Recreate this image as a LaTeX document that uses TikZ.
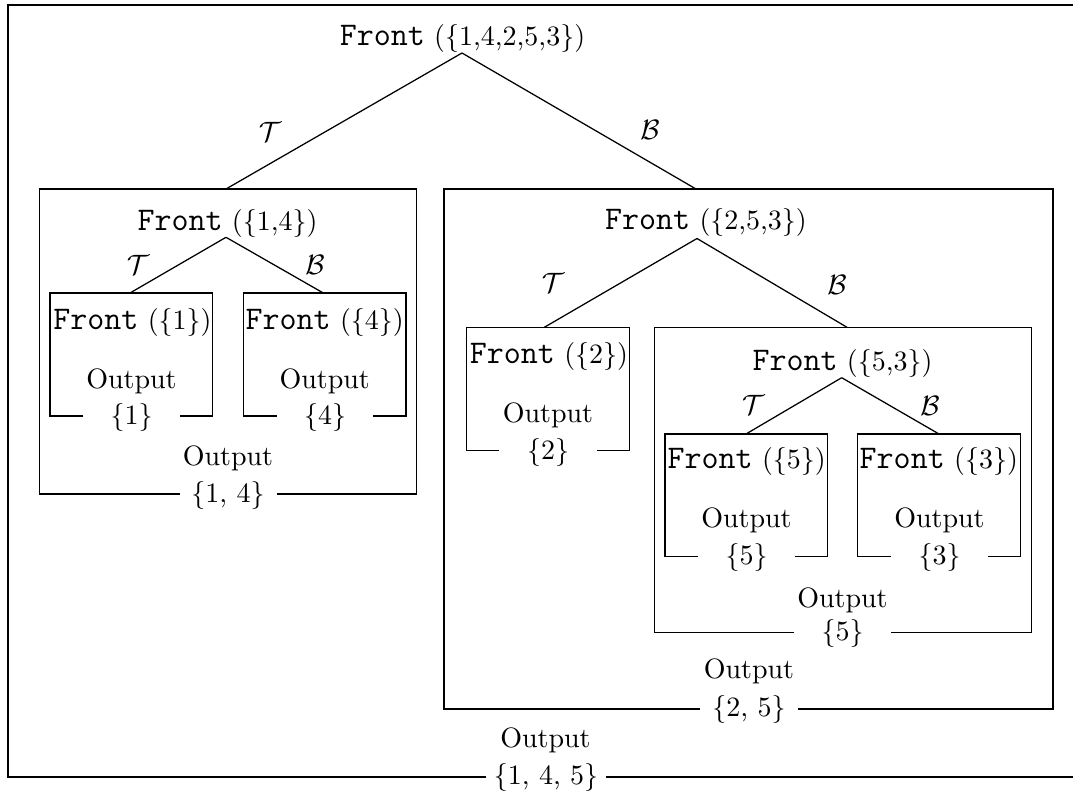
\documentclass[tikz,border=0pt]{standalone}
\newcommand\fronttt{\fontsize{11.8pt}{14pt}\selectfont\ttfamily}
\newcommand\frontlbl[1]{{\fronttt Front} (\{#1\})}
% a box whose bottom edge leaves a gap for its output set
\newcommand\outbox[6]{\draw (#5,#4) -- (#1,#4) -- (#1,#2) -- (#3,#2) -- (#3,#4) -- (#6,#4);}
\begin{document}
\begin{tikzpicture}[x=0.35714pt,y=-0.35714pt,
  every path/.style={line width=0.45pt},
  txt/.style={inner sep=0pt, font=\normalsize},
  branch/.style={inner sep=0pt, font=\normalsize},
  edge/.style={line width=0.45pt}]
\useasboundingbox (0,0) rectangle (1073,793);

% ---- boxes ----
\outbox{8}{5}{1083}{777}{486}{606}
\outbox{39.3}{189}{416.7}{494}{180}{276.7}
\outbox{50}{293}{212.7}{416}{83.3}{180}
\outbox{243.3}{293}{406}{416}{276.7}{373.3}
\outbox{444}{189}{1053}{709}{700}{798.3}
\outbox{466.6}{327.5}{629.5}{450.7}{498.5}{597}
\outbox{654.7}{327.3}{1031.7}{632.7}{794}{890.7}
\outbox{665}{434}{827.7}{556.7}{698.3}{795}
\outbox{857.7}{434}{1020.7}{556.7}{890.7}{988.3}

% ---- calls ----
\node[txt] (f0)   at (462.5,38)   {\frontlbl{1,4,2,5,3}};
\node[txt] (f1)   at (227.5,223)  {\frontlbl{1,4}};
\node[txt] (f11)  at (132.5,322)  {\frontlbl{1}};
\node[txt] (f12)  at (324.7,322)  {\frontlbl{4}};
\node[txt] (f2)   at (706,222)    {\frontlbl{2,5,3}};
\node[txt] (f21)  at (549,356)    {\frontlbl{2}};
\node[txt] (f22)  at (842.5,363.3){\frontlbl{5,3}};
\node[txt] (f221) at (746.7,461.7){\frontlbl{5}};
\node[txt] (f222) at (938.8,461.7){\frontlbl{3}};

% ---- branch points and box tops ----
\coordinate (a0)  at (462,53);
\coordinate (a1)  at (226,237.3);
\coordinate (a2)  at (697,238.5);
\coordinate (a22) at (841.7,377.7);
\coordinate (t1)   at (226,189);
\coordinate (t2)   at (696,189);
\coordinate (t11)  at (130,293);
\coordinate (t12)  at (323.3,293);
\coordinate (t21)  at (544,327.5);
\coordinate (t22)  at (847,327.3);
\coordinate (t221) at (746,434);
\coordinate (t222) at (939,434);

\draw[edge] (a0) -- (t1);
\draw[edge] (a0) -- (t2);
\draw[edge] (a1) -- (t11);
\draw[edge] (a1) -- (t12);
\draw[edge] (a2) -- (t21);
\draw[edge] (a2) -- (t22);
\draw[edge] (a22) -- (t221);
\draw[edge] (a22) -- (t222);

% ---- branch labels ----
\node[branch] (lt0)  at (270,132) {$\mathcal{T}$};
\node[branch] (lb0)  at (650,130) {$\mathcal{B}$};
\node[branch] (lt1)  at (138,265) {$\mathcal{T}$};
\node[branch] (lb1)  at (315,265) {$\mathcal{B}$};
\node[branch] (lt2)  at (553,283) {$\mathcal{T}$};
\node[branch] (lb2)  at (837,285) {$\mathcal{B}$};
\node[branch] (lt22) at (753.3,405) {$\mathcal{T}$};
\node[branch] (lb22) at (930,406) {$\mathcal{B}$};

% ---- outputs ----
\node[txt] (o0)   at (545.5,740)  {Output};
\node[txt] (s0)   at (546,777.5)  {\{1, 4, 5\}};
\node[txt] (o1)   at (228,458)    {Output};
\node[txt] (s1)   at (228,495)    {\{1, 4\}};
\node[txt] (o11)  at (131.5,381.7){Output};
\node[txt] (s11)  at (131.5,417)  {\{1\}};
\node[txt] (o12)  at (324.7,381.7){Output};
\node[txt] (s12)  at (325,417)    {\{4\}};
\node[txt] (o2)   at (749,671.7)  {Output};
\node[txt] (s2)   at (749,709.5)  {\{2, 5\}};
\node[txt] (o21)  at (548,415.7)  {Output};
\node[txt] (s21)  at (548,452)    {\{2\}};
\node[txt] (o22)  at (842.5,600)  {Output};
\node[txt] (s22)  at (842.5,633.5){\{5\}};
\node[txt] (o221) at (746.5,520)  {Output};
\node[txt] (s221) at (746.5,557.5){\{5\}};
\node[txt] (o222) at (939.5,520)  {Output};
\node[txt] (s222) at (939.5,557.5){\{3\}};
\end{tikzpicture}
\end{document}
